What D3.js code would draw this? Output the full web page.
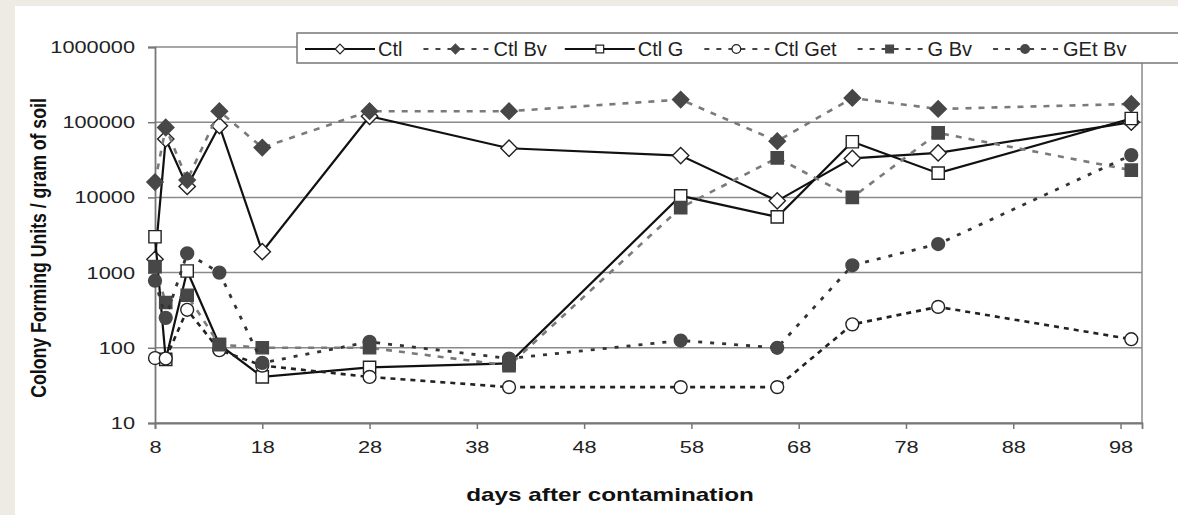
<!DOCTYPE html>
<html lang="en">
<head>
<meta charset="UTF-8">
<title>Colony forming units</title>
<script src="https://d3js.org/d3.v7.min.js"></script>
<style>
    body { margin: 0; background: #eeebe4; }
    svg { display: block; font-family: "Liberation Sans", Arial, sans-serif; }
</style>
</head>
<body>
<script>
    // days after contamination
    var days = [8, 9, 11, 14, 18, 28, 41, 57, 66, 73, 81, 99];

    var ctl    = [1500, 60000, 14000, 90000, 1900, 120000, 45000, 36000, 9000, 33000, 39000, 100000];
    var ctlBv  = [16000, 85000, 17000, 140000, 46000, 140000, 140000, 200000, 56000, 210000, 150000, 175000];
    var ctlG   = [3000, 70, 1050, 110, 41, 55, 62, 10500, 5500, 55000, 21000, 112000];
    var ctlGet = [73, 72, 320, 93, 58, 41, 30, 30, 30, 205, 350, 130];
    var gBv    = [1200, 400, 500, 110, 100, 100, 58, 7300, 33500, 10000, 72000, 23000];
    var getBv  = [780, 250, 1800, 1000, 63, 120, 72, 125, 100, 1250, 2400, 36500];

    var seriesNames = ['Ctl', 'Ctl Bv', 'Ctl G', 'Ctl Get', 'G Bv', 'GEt Bv'];
    var seriesValues = [ctl, ctlBv, ctlG, ctlGet, gBv, getBv];

    var yTicks = [10, 100, 1000, 10000, 100000, 1000000];
    var xTicks = [8, 18, 28, 38, 48, 58, 68, 78, 88, 98];

    // look of each series (line + marker)
    var styles = [
        {shape: d3.symbolDiamond2, fill: '#fff', line: '#111', dash: null, w: 2.2},
        {shape: d3.symbolDiamond2, fill: '#474747', line: '#7a7a7a', dash: '6,7', w: 2.6},
        {shape: d3.symbolSquare, fill: '#fff', line: '#111', dash: null, w: 2.2},
        {shape: d3.symbolCircle, fill: '#fff', line: '#222', dash: '5,5', w: 2.6},
        {shape: d3.symbolSquare, fill: '#474747', line: '#7a7a7a', dash: '6,7', w: 2.6},
        {shape: d3.symbolCircle, fill: '#474747', line: '#333', dash: '4,8', w: 2.8}
    ];

    var W = 1178, H = 515;
    var pLeft = 155, pRight = 1142, pTop = 47, pBottom = 423;
    var stretch = 1.28; // axis text in the picture is drawn wide

    var svg = d3.select('body').append('svg')
        .attr('width', W)
        .attr('height', H);

    svg.append('rect').attr('x', 0).attr('y', 0).attr('width', W).attr('height', H).attr('fill', '#eeebe4');
    svg.append('rect').attr('x', 15).attr('y', 6).attr('width', W - 15).attr('height', H - 6).attr('fill', '#fff');

    var x = d3.scaleLinear().domain([8, 100]).range([pLeft, pRight]);
    var y = d3.scaleLog().domain([10, 1000000]).range([pBottom, pTop]);

    // grid lines
    svg.append('g').selectAll('line')
        .data(yTicks)
        .enter().append('line')
        .attr('x1', pLeft).attr('x2', pRight)
        .attr('y1', d => y(d)).attr('y2', d => y(d))
        .attr('stroke', '#8a8a8a').attr('stroke-width', 1.5);

    svg.append('line')
        .attr('x1', pRight).attr('x2', pRight).attr('y1', pTop).attr('y2', pBottom)
        .attr('stroke', '#8a8a8a').attr('stroke-width', 1.5);

    // axes
    var yAxis = d3.axisLeft(y).tickValues(yTicks).tickFormat(d3.format('d')).tickSizeOuter(0).tickSize(7);
    var gy = svg.append('g').attr('transform', 'translate(' + pLeft + ',0)').call(yAxis);

    var xAxis = d3.axisBottom(x).tickValues(xTicks).tickSizeOuter(0).tickSize(6).tickPadding(12);
    var gx = svg.append('g').attr('transform', 'translate(0,' + pBottom + ')').call(xAxis);

    [gx, gy].forEach(function(g) {
        g.attr('font-size', 17).attr('font-family', '"Liberation Sans", Arial, sans-serif');
        g.select('.domain').attr('stroke', '#777').attr('stroke-width', 1.8);
        g.selectAll('.tick line').attr('stroke', '#777').attr('stroke-width', 1.5);
        g.selectAll('.tick text').attr('fill', '#222').attr('transform', 'scale(' + stretch + ',1)');
    });
    gy.selectAll('.tick text').attr('x', -20 / stretch);

    // series
    var line = d3.line().x((d, i) => x(days[i])).y(d => y(d));

    seriesValues.forEach(function(vals, k) {
        var s = styles[k];
        var g = svg.append('g');
        g.append('path')
            .attr('d', line(vals))
            .attr('fill', 'none')
            .attr('stroke', s.line)
            .attr('stroke-width', s.w)
            .attr('stroke-dasharray', s.dash);
        g.selectAll('path.mark')
            .data(vals)
            .enter().append('path')
            .attr('class', 'mark')
            .attr('transform', (d, i) => 'translate(' + x(days[i]) + ',' + y(d) + ')')
            .attr('d', d3.symbol().type(s.shape).size(s.shape === d3.symbolCircle ? 130 : (s.shape === d3.symbolSquare ? 150 : 170)))
            .attr('fill', s.fill)
            .attr('stroke', s.fill === '#fff' ? '#222' : '#474747')
            .attr('stroke-width', 1.4);
    });

    // legend
    var lg = svg.append('g');
    lg.append('rect')
        .attr('x', 297).attr('y', 33).attr('width', 900).attr('height', 30)
        .attr('fill', '#fff').attr('stroke', '#777').attr('stroke-width', 1.5);

    var lx = 305, ly = 49;
    seriesNames.forEach(function(name, k) {
        var s = styles[k];
        lg.append('line')
            .attr('x1', lx).attr('x2', lx + 70).attr('y1', ly).attr('y2', ly)
            .attr('stroke', s.dash ? '#444' : '#111').attr('stroke-width', 2)
            .attr('stroke-dasharray', s.dash ? '5,7' : null)
            .attr('stroke-dashoffset', s.dash ? -3 : null);
        lg.append('path')
            .attr('transform', 'translate(' + (lx + 35) + ',' + ly + ')')
            .attr('d', d3.symbol().type(s.shape).size(60))
            .attr('fill', s.fill)
            .attr('stroke', s.fill === '#fff' ? '#222' : '#474747')
            .attr('stroke-width', 1.2);
        var t = lg.append('text')
            .attr('x', lx + 73).attr('y', ly + 7)
            .attr('fill', '#222')
            .style('font-size', '20px')
            .text(name);
        lx = lx + 73 + t.node().getComputedTextLength() + 18;
    });

    // axis titles
    svg.append('text')
        .attr('transform', 'translate(610,501) scale(' + stretch + ',1)')
        .attr('text-anchor', 'middle')
        .style('font-size', '19px').style('font-weight', 'bold')
        .attr('fill', '#111')
        .text('days after contamination');

    svg.append('text')
        .attr('transform', 'translate(46,248) scale(' + stretch + ',1) rotate(-90)')
        .attr('text-anchor', 'middle')
        .style('font-size', '17.7px').style('font-weight', 'bold')
        .attr('fill', '#111')
        .text('Colony Forming Units / gram of soil');
</script>
</body>
</html>
